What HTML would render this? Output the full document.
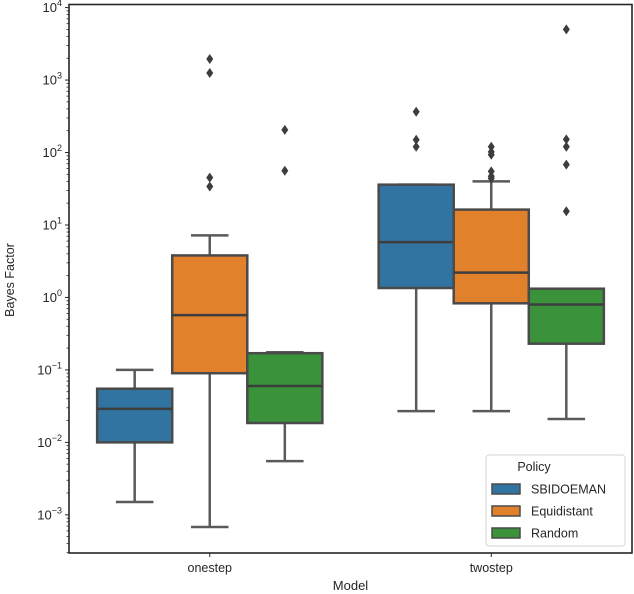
<!DOCTYPE html>
<html><head><meta charset="utf-8"><style>
body{margin:0;background:#fff;}
svg{display:block;font-family:"Liberation Sans","DejaVu Sans",sans-serif;}
</style></head><body>
<svg id="chart" width="634" height="594" viewBox="0 0 634 594" xmlns="http://www.w3.org/2000/svg">
<g id="plot"></g>
</svg>
<script>
const categories = ["onestep", "twostep"];
const policies = ["SBIDOEMAN", "Equidistant", "Random"];
// [whiskerLow, q1, median, q3, whiskerHigh]
const onestepStats = [
  [0.0015, 0.010, 0.029, 0.055, 0.10],
  [0.00068, 0.09, 0.57, 3.8, 7.2],
  [0.0055, 0.0185, 0.06, 0.17, 0.175]
];
const twostepStats = [
  [0.027, 1.35, 5.8, 36, 36],
  [0.027, 0.83, 2.2, 16.3, 40],
  [0.021, 0.23, 0.8, 1.32, 1.32]
];
const onestepOutliers = [[], [1950, 1250, 45, 34], [205, 56]];
const twostepOutliers = [[365, 150, 120], [120, 102, 93, 55, 47, 44], [5000, 152, 120, 68, 15.5]];
const yTickExps = [-3, -2, -1, 0, 1, 2, 3, 4];
const colors = ["#3274a1", "#e1812c", "#3a923a"];

const L = 69, R = 632, T = 4.5, B = 553;
const yTop = 7.6, decade = 72.46;
function y(v){ return yTop + (4 - Math.log10(v)) * decade; }
const catW = (R - L) / categories.length;
function catCenter(i){ return L + catW * (i + 0.5); }
const boxW = catW * 0.8 / policies.length;
function boxX(ci, hi){ return catCenter(ci) - catW * 0.4 + hi * boxW; }

const NS = "http://www.w3.org/2000/svg";
const g = document.getElementById("plot");
function mk(tag, attrs, parent){
  const e = document.createElementNS(NS, tag);
  for (const k in attrs) e.setAttribute(k, attrs[k]);
  (parent || g).appendChild(e);
  return e;
}
const allStats = [onestepStats, twostepStats];
const allOut = [onestepOutliers, twostepOutliers];

allStats.forEach((stats, ci) => {
  stats.forEach((s, hi) => {
    const x0 = boxX(ci, hi), xc = x0 + boxW / 2;
    const grp = mk("g", {});
    
    
    mk("line", {x1: xc, x2: xc, y1: y(s[0]), y2: y(s[1]), stroke: "#5a5a5a", "stroke-width": 2.5}, grp);
    mk("line", {x1: xc, x2: xc, y1: y(s[3]), y2: y(s[4]), stroke: "#5a5a5a", "stroke-width": 2.5}, grp);
    mk("line", {x1: xc - boxW / 4, x2: xc + boxW / 4, y1: y(s[0]), y2: y(s[0]), stroke: "#5a5a5a", "stroke-width": 2.5}, grp);
    mk("line", {x1: xc - boxW / 4, x2: xc + boxW / 4, y1: y(s[4]), y2: y(s[4]), stroke: "#5a5a5a", "stroke-width": 2.5}, grp);
    mk("rect", {x: x0, y: y(s[3]), width: boxW, height: y(s[1]) - y(s[3]), fill: colors[hi], stroke: "#4a4a4a", "stroke-width": 2.5}, grp);
    mk("line", {x1: x0, x2: x0 + boxW, y1: y(s[2]), y2: y(s[2]), stroke: "#3d3d3d", "stroke-width": 2.5}, grp);
    allOut[ci][hi].forEach(v => {
      const d = mk("path", {d: `M${xc},${y(v)-5}L${xc+3.5},${y(v)}L${xc},${y(v)+5}L${xc-3.5},${y(v)}Z`, fill: "#3d3d3d"}, grp);
      
      
    });
  });
});

const frame = mk("rect", {x: L, y: T, width: R - L, height: B - T, fill: "none", stroke: "#262626", "stroke-width": 1.6});



const yAxis = mk("g", {});


yTickExps.forEach(e => {
  const yy = y(Math.pow(10, e));
  mk("line", {x1: L - 4, x2: L, y1: yy, y2: yy, stroke: "#262626", "stroke-width": 1}, yAxis);
  const t = mk("text", {x: L - 7, y: yy + 4.5, "text-anchor": "end", "font-size": 13, fill: "#262626"}, yAxis);
  
  
  t.appendChild(document.createTextNode("10"));
  const sup = mk("tspan", {dy: -6, "font-size": 9}, t);
  sup.textContent = e < 0 ? "\u2212" + (-e) : String(e);
});
for (let e = -4; e < 4; e++){
  for (let m = 2; m < 10; m++){
    const v = m * Math.pow(10, e), yy = y(v);
    if (yy < T || yy > B) continue;
    mk("line", {x1: L - 2.5, x2: L, y1: yy, y2: yy, stroke: "#262626", "stroke-width": 0.8}, yAxis);
  }
}
const yl = mk("text", {x: 0, y: 0, transform: "translate(14,280) rotate(-90)", "text-anchor": "middle", "font-size": 12.5, fill: "#262626"});


yl.textContent = "Bayes Factor";

categories.forEach((c, i) => {
  const xc = catCenter(i);
  mk("line", {x1: xc, x2: xc, y1: B, y2: B + 4, stroke: "#262626", "stroke-width": 1});
  const t = mk("text", {x: xc, y: B + 19, "text-anchor": "middle", "font-size": 12.5, fill: "#262626"});
  
  
  t.textContent = c;
});
const xl = mk("text", {x: (L + R) / 2, y: 590, "text-anchor": "middle", "font-size": 13, fill: "#262626"});


xl.textContent = "Model";

const lg = mk("g", {});


mk("rect", {x: 486, y: 455, width: 139, height: 91, rx: 3, fill: "#fff", "fill-opacity": 0.85, stroke: "#d6d6d6", "stroke-width": 1}, lg);
const lt = mk("text", {x: 534, y: 471, "text-anchor": "middle", "font-size": 12.5, fill: "#262626"}, lg);


lt.textContent = "Policy";
policies.forEach((p, i) => {
  const yy = 489 + i * 22;
  const ent = mk("g", {}, lg);
  
  
  mk("rect", {x: 492, y: yy - 5, width: 28, height: 10, fill: colors[i], stroke: "#4a4a4a", "stroke-width": 1.5}, ent);
  const t = mk("text", {x: 531, y: yy + 4.5, "font-size": 12.5, fill: "#262626"}, ent);
  t.textContent = p;
});
</script>
</body></html>
